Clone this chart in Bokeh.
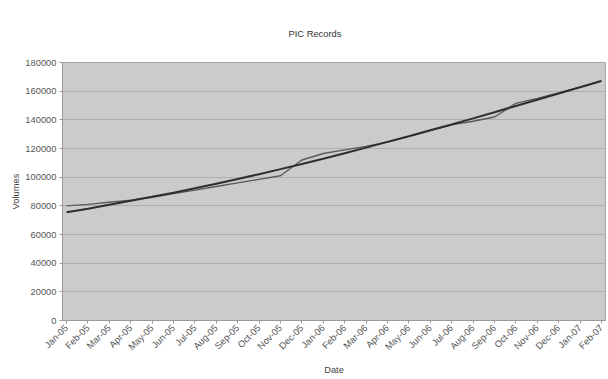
import math

from bokeh.embed import file_html
from bokeh.models import ColumnDataSource, FixedTicker, Range1d, Title
from bokeh.plotting import figure
from bokeh.resources import INLINE

# Monthly record volumes
months = [
    "Jan-05", "Feb-05", "Mar-05", "Apr-05", "May-05", "Jun-05", "Jul-05",
    "Aug-05", "Sep-05", "Oct-05", "Nov-05", "Dec-05", "Jan-06", "Feb-06",
    "Mar-06", "Apr-06", "May-06", "Jun-06", "Jul-06", "Aug-06", "Sep-06",
    "Oct-06", "Nov-06", "Dec-06", "Jan-07", "Feb-07",
]
actual = [
    80000, 81000, 82500, 84000, 86000, 88500, 91000, 93500, 96000, 98500,
    101000, 112000, 116500, 119000, 121500, 124500, 128500, 132500, 136500,
    139000, 142000, 151500, 155000, 158800, 162800, 167500,
]
trend = [
    75500, 78000, 80700, 83500, 86300, 89200, 92200, 95400, 98700, 102100,
    105600, 109200, 112900, 116700, 120600, 124600, 128600, 132700, 136800,
    141000, 145300, 149700, 154000, 158400, 162700, 167000,
]
y_ticks = [0, 20000, 40000, 60000, 80000, 100000, 120000, 140000, 160000, 180000]

idx = list(range(len(months)))
source = ColumnDataSource(dict(x=idx, month=months, actual=actual, trend=trend))

FONT = "Liberation Sans"

p = figure(
    width=608, height=379,
    output_backend="svg", toolbar_location=None,
    x_range=Range1d(-0.19, len(months) - 1 + 0.19),
    y_range=Range1d(0, 180000),
    min_border_left=62, min_border_right=3,
    min_border_top=62, min_border_bottom=59,
    background_fill_color="#cbcbcb",
    border_fill_color="#ffffff",
)

p.add_layout(Title(text="PIC Records", align="left", text_font=FONT,
                   text_font_size="7pt", text_font_style="normal",
                   text_color="#333333", offset=226, standoff=48), "above")

p.line("x", "actual", source=source, line_color="#5a5a5a", line_width=1.4)
p.line("x", "trend", source=source, line_color="#2e2e2e", line_width=2)

p.outline_line_color = "#a8a8a8"

p.xgrid.grid_line_color = None
p.ygrid.grid_line_color = "#aeaeae"
p.ygrid.grid_line_width = 1

p.yaxis.ticker = FixedTicker(ticks=y_ticks)
p.yaxis.major_label_overrides = {v: str(v) for v in y_ticks}
p.yaxis.axis_label = "Volumes"

p.xaxis.ticker = FixedTicker(ticks=idx)
p.xaxis.major_label_overrides = {i: m for i, m in zip(idx, months)}
p.xaxis.major_label_orientation = math.pi / 4
p.xaxis.axis_label = "Date"

for ax in (p.xaxis, p.yaxis):
    ax.axis_line_color = "#9a9a9a"
    ax.major_tick_line_color = "#9a9a9a"
    ax.major_tick_in = 0
    ax.major_tick_out = 3
    ax.minor_tick_line_color = None
    ax.major_label_text_font = FONT
    ax.major_label_text_font_size = "7pt"
    ax.major_label_text_color = "#555555"
    ax.axis_label_text_font = FONT
    ax.axis_label_text_font_size = "7pt"
    ax.axis_label_text_font_style = "normal"
    ax.axis_label_text_color = "#444444"
    ax.major_label_standoff = 3

p.xaxis.axis_label_standoff = 6
p.yaxis.axis_label_standoff = 1

open("out.html", "w").write(file_html(p, INLINE))
